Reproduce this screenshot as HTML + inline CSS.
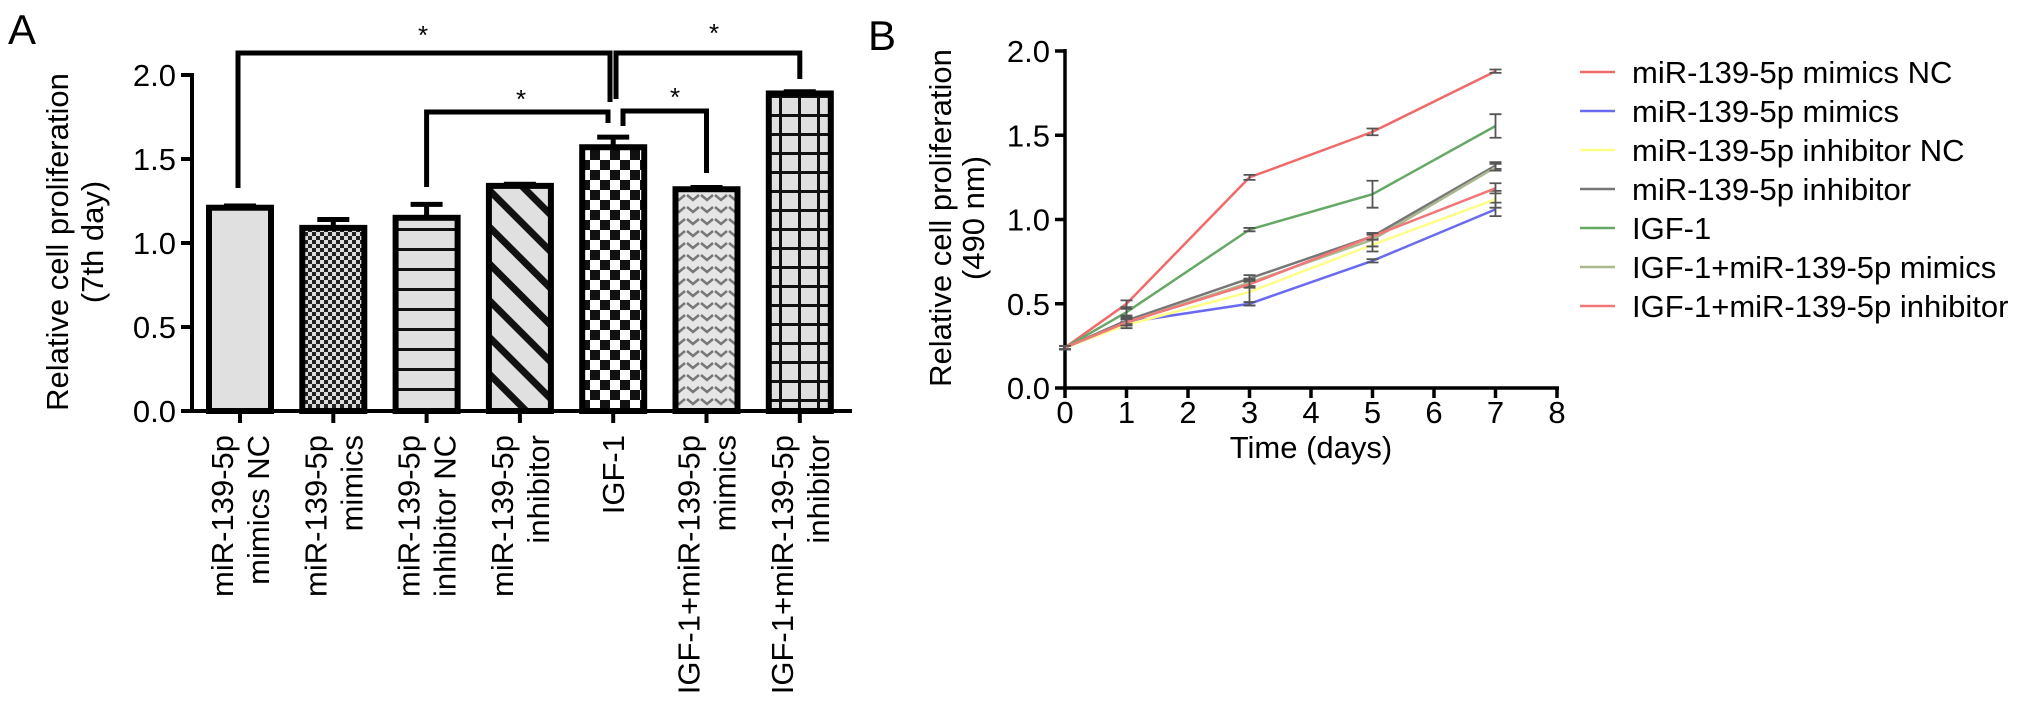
<!DOCTYPE html>
<html><head><meta charset="utf-8"><style>
html,body{margin:0;padding:0;background:#fff;}
svg{display:block;font-family:"Liberation Sans",Arial,sans-serif;}
</style></head><body>
<svg id="fig" width="2032" height="713" viewBox="0 0 2032 713" xmlns="http://www.w3.org/2000/svg">
<defs>
<pattern id="p2" width="8" height="8" patternUnits="userSpaceOnUse"><rect width="8" height="8" fill="#ddd"/><rect width="4" height="4" fill="#222"/><rect x="4" y="4" width="4" height="4" fill="#222"/></pattern>
<pattern id="p3" width="10" height="20" patternUnits="userSpaceOnUse"><rect width="10" height="20" fill="#e0e0e0"/><rect y="8" width="10" height="3" fill="#111"/></pattern>
<pattern id="p4" width="26" height="26" patternUnits="userSpaceOnUse" patternTransform="rotate(-45)"><rect width="26" height="26" fill="#e0e0e0"/><rect width="7" height="26" fill="#111"/></pattern>
<pattern id="p5" width="20" height="20" patternUnits="userSpaceOnUse"><rect width="20" height="20" fill="#fff"/><rect width="10" height="10" fill="#111"/><rect x="10" y="10" width="10" height="10" fill="#111"/></pattern>
<pattern id="p6" width="14" height="12" patternUnits="userSpaceOnUse"><rect width="14" height="12" fill="#e6e6e6"/><path d="M1 3 L7 8 L13 3" stroke="#777" stroke-width="2.5" fill="none"/></pattern>
<pattern id="p7" width="19" height="19" patternUnits="userSpaceOnUse"><rect width="19" height="19" fill="#e0e0e0"/><rect width="19" height="3" fill="#111"/><rect width="3" height="19" fill="#111"/></pattern>
</defs>
<text x="8" y="44" font-size="42">A</text>
<text x="868" y="50" font-size="42">B</text>
<g id="chartA"></g>
<g id="chartB"></g>
</svg>
<script>
const NS='http://www.w3.org/2000/svg';
function mk(parent,tag,attrs,text){const e=document.createElementNS(NS,tag);for(const k in attrs)e.setAttribute(k,attrs[k]);if(text!==undefined)e.textContent=text;parent.appendChild(e);return e;}

// ---------- Panel A data ----------
const barCategories=[["miR-139-5p","mimics NC"],["miR-139-5p","mimics"],["miR-139-5p","inhibitor NC"],["miR-139-5p","inhibitor"],["IGF-1"],["IGF-1+miR-139-5p","mimics"],["IGF-1+miR-139-5p","inhibitor"]];
const barValues=[1.21,1.09,1.15,1.34,1.57,1.32,1.89];
const barErrors=[0.01,0.05,0.08,0.01,0.06,0.01,0.01];
const barYTicks=[0,0.5,1.0,1.5,2.0];
const barYTickLabels=["0.0","0.5","1.0","1.5","2.0"];
const barFills=["#e0e0e0","url(#p2)","url(#p3)","url(#p4)","url(#p5)","url(#p6)","url(#p7)"];

const A=document.getElementById('chartA');
const ay=v=>411-v*168;
const ax=i=>240+i*93.3;
const bw=62;
let e;
e=mk(A,'line',{x1:192,y1:ay(2)-2,x2:192,y2:413,stroke:'#000','stroke-width':4});

e=mk(A,'line',{x1:190,y1:411,x2:852,y2:411,stroke:'#000','stroke-width':4});

barYTicks.forEach((t,i)=>{
  mk(A,'line',{x1:181,y1:ay(t),x2:192,y2:ay(t),stroke:'#000','stroke-width':4});
  e=mk(A,'text',{x:176,y:ay(t)+11,'font-size':31,'text-anchor':'end'},barYTickLabels[i]);
  
});
e=mk(A,'text',{transform:'translate(68,242) rotate(-90)','font-size':31,'text-anchor':'middle'},'Relative cell proliferation');

e=mk(A,'text',{transform:'translate(103,242) rotate(-90)','font-size':31,'text-anchor':'middle'},'(7th day)');

barValues.forEach((v,i)=>{
  const cx=ax(i);
  e=mk(A,'rect',{x:cx-bw/2,y:ay(v),width:bw,height:ay(0)-ay(v),fill:barFills[i],stroke:'#000','stroke-width':6});
  
  const top=ay(v+barErrors[i]);
  e=mk(A,'path',{d:`M${cx} ${ay(v)} V${top} M${cx-16} ${top} H${cx+16}`,stroke:'#000','stroke-width':5,fill:'none'});
  
  mk(A,'line',{x1:cx,y1:411,x2:cx,y2:423,stroke:'#000','stroke-width':4});
  const lines=barCategories[i];
  lines.forEach((ln,j)=>{
    const off=lines.length===1?0:(j===0?-18:18);
    e=mk(A,'text',{transform:`translate(${cx+off+11},435) rotate(-90)`,'font-size':31,'text-anchor':'end'},ln);
    
  });
});
const brackets=[
  `M${ax(0)-2} 188 V53 H610 V102`,
  `M616 99 V53 H${ax(6)} V79`,
  `M${ax(2)} 187 V112 H608 V123`,
  `M623 126 V111 H${ax(5)} V173`];
brackets.forEach((d,i)=>{e=mk(A,'path',{d:d,stroke:'#000','stroke-width':5,fill:'none'});
  });
[[423,44],[714,42],[521,108],[675,106]].forEach(p=>{e=mk(A,'text',{x:p[0],y:p[1],'font-size':26,'text-anchor':'middle'},'*');
  });

// ---------- Panel B data ----------
const days=[0,1,3,5,7];
const seriesNames=["miR-139-5p mimics NC","miR-139-5p mimics","miR-139-5p inhibitor NC","miR-139-5p inhibitor","IGF-1","IGF-1+miR-139-5p mimics","IGF-1+miR-139-5p inhibitor"];
const sMimicsNC=[0.24,0.50,1.25,1.52,1.88];
const sMimics=[0.24,0.39,0.50,0.755,1.06];
const sInhibNC=[0.24,0.375,0.57,0.85,1.12];
const sInhib=[0.24,0.40,0.65,0.90,1.32];
const sIGF=[0.24,0.45,0.94,1.15,1.555];
const sIGFMimics=[0.24,0.39,0.625,0.88,1.31];
const sIGFInhib=[0.24,0.39,0.615,0.90,1.185];
const eMimicsNC=[0.01,0.02,0.015,0.02,0.01];
const eMimics=[0.01,0.02,0.01,0.01,0.04];
const eInhibNC=[0.01,0.02,0.08,0.04,0.05];
const eInhib=[0.01,0.02,0.02,0.01,0.02];
const eIGF=[0.01,0.02,0.01,0.08,0.07];
const eIGFMimics=[0.01,0.02,0.02,0.04,0.02];
const eIGFInhib=[0.01,0.02,0.02,0.02,0.03];
const lineXTicks=[0,1,2,3,4,5,6,7,8];
const lineYTicks=[0,0.5,1.0,1.5,2.0];
const lineYTickLabels=["0.0","0.5","1.0","1.5","2.0"];
const seriesData=[sMimicsNC,sMimics,sInhibNC,sInhib,sIGF,sIGFMimics,sIGFInhib];
const seriesErr=[eMimicsNC,eMimics,eInhibNC,eInhib,eIGF,eIGFMimics,eIGFInhib];
const colors=["#f06a6a","#6a6af0","#ffff88","#777777","#66a866","#aab890","#f07878"];

const B=document.getElementById('chartB');
const bx=d=>1065+d*61.5;
const by=v=>388-v*168.5;
e=mk(B,'line',{x1:1065,y1:by(2)-2,x2:1065,y2:390,stroke:'#000','stroke-width':3.5});

e=mk(B,'line',{x1:1063,y1:388,x2:bx(8)+2,y2:388,stroke:'#000','stroke-width':3.5});

lineYTicks.forEach((t,i)=>{
  mk(B,'line',{x1:1055,y1:by(t),x2:1065,y2:by(t),stroke:'#000','stroke-width':3.5});
  e=mk(B,'text',{x:1050,y:by(t)+11,'font-size':31,'text-anchor':'end'},lineYTickLabels[i]);
  
});
lineXTicks.forEach(t=>{
  mk(B,'line',{x1:bx(t),y1:388,x2:bx(t),y2:398,stroke:'#000','stroke-width':3.5});
  e=mk(B,'text',{x:bx(t),y:423,'font-size':31,'text-anchor':'middle'},String(t));
  
});
e=mk(B,'text',{x:bx(4),y:458,'font-size':31,'text-anchor':'middle'},'Time (days)');

e=mk(B,'text',{transform:'translate(951,218) rotate(-90)','font-size':31,'text-anchor':'middle'},'Relative cell proliferation');

e=mk(B,'text',{transform:'translate(984,218) rotate(-90)','font-size':31,'text-anchor':'middle'},'(490 nm)');

seriesData.forEach((s,k)=>{
  const pts=s.map((v,i)=>bx(days[i])+','+by(v)).join(' ');
  e=mk(B,'polyline',{points:pts,fill:'none',stroke:colors[k],'stroke-width':2.5});
  
  s.forEach((v,i)=>{
    const x=bx(days[i]),er=seriesErr[k][i];
    e=mk(B,'path',{d:`M${x} ${by(v-er)} V${by(v+er)} M${x-6} ${by(v-er)} H${x+6} M${x-6} ${by(v+er)} H${x+6}`,stroke:'#555','stroke-width':1.8,fill:'none'});
    
  });
});
seriesNames.forEach((n,k)=>{
  const y=72+k*39;
  e=mk(B,'line',{x1:1580,y1:y,x2:1615,y2:y,stroke:colors[k],'stroke-width':2.5});
  
  e=mk(B,'text',{x:1632,y:y+11,'font-size':31},n);
  
});
</script>
</body></html>
